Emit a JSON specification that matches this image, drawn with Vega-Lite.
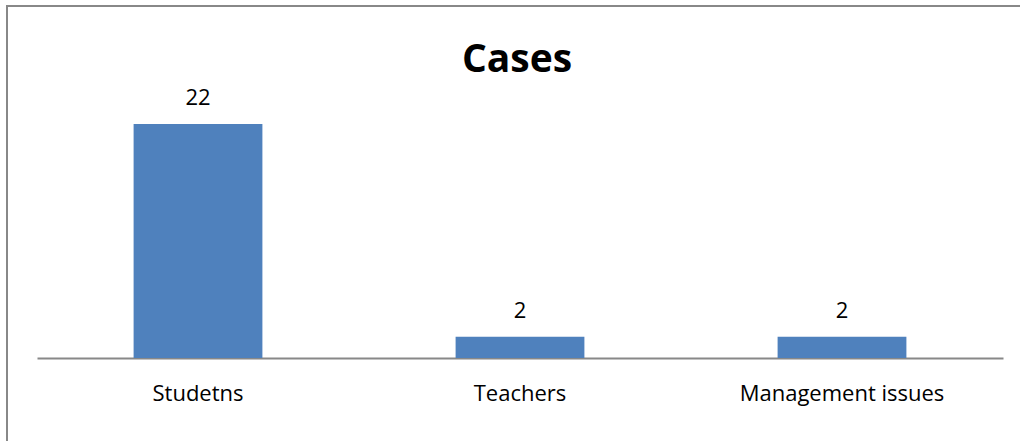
{
  "$schema": "https://vega.github.io/schema/vega-lite/v6.json",
  "autosize": {"type": "none"},
  "width": 1040,
  "height": 460,
  "padding": {"left": 7, "top": 6, "right": 0, "bottom": 0},
  "background": "white",
  "config": {
    "view": {"stroke": "#888888", "strokeWidth": 2},
    "font": "Open Sans"
  },
  "title": {
    "text": "Cases",
    "orient": "top",
    "anchor": "middle",
    "frame": "group",
    "offset": -67,
    "dy": 38,
    "dx": -10,
    "baseline": "alphabetic",
    "font": "Open Sans",
    "fontSize": 39,
    "fontWeight": "bold",
    "color": "black"
  },
  "data": {
    "values": [
      {"category": "Studetns", "cases": 22},
      {"category": "Teachers", "cases": 2},
      {"category": "Management issues", "cases": 2}
    ]
  },
  "encoding": {
    "x": {
      "field": "category",
      "type": "nominal",
      "sort": null,
      "scale": {"range": [30, 996], "paddingInner": 0.6, "paddingOuter": 0.3},
      "axis": {
        "title": null,
        "orient": "bottom",
        "offset": -108,
        "labelAngle": 0,
        "labelLimit": 0,
        "ticks": false,
        "domainColor": "#888888",
        "domainWidth": 2,
        "labelFont": "Open Sans",
        "labelFontSize": 22,
        "labelColor": "black",
        "labelPadding": 25
      }
    },
    "y": {
      "field": "cases",
      "type": "quantitative",
      "scale": {"domain": [0, 22], "range": [352, 118], "nice": false, "zero": true},
      "axis": null
    }
  },
  "layer": [
    {"mark": {"type": "bar", "color": "#4f81bd"}},
    {
      "mark": {"type": "text", "baseline": "alphabetic", "dy": -19, "font": "Open Sans", "fontSize": 22, "color": "black"},
      "encoding": {"text": {"field": "cases", "type": "quantitative"}}
    }
  ]
}
